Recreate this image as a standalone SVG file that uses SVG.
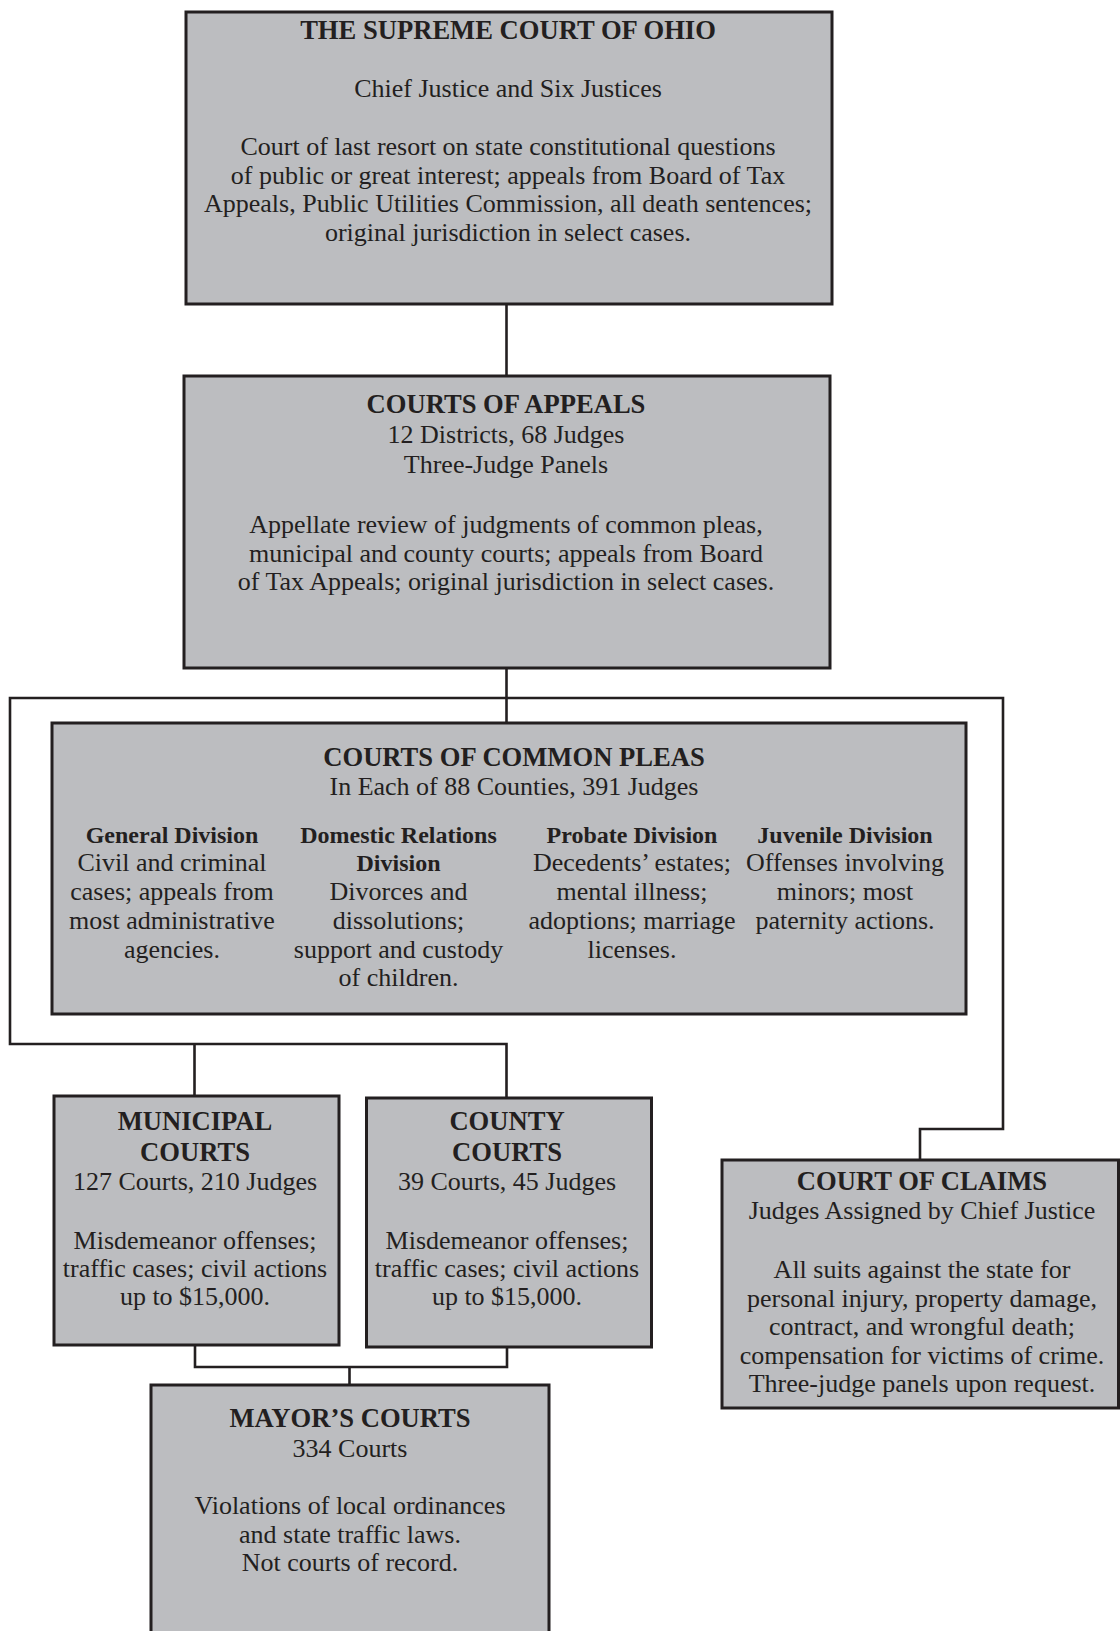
<svg xmlns="http://www.w3.org/2000/svg" width="1120" height="1631" viewBox="0 0 1120 1631">
<style>
.box{fill:#bcbdc0;stroke:#231f20;stroke-width:3}
.ln{fill:none;stroke:#231f20;stroke-width:2.6}
text{font-family:"Liberation Serif","Times New Roman",serif;fill:#231f20;text-anchor:middle}
.t{font-size:26.6px;font-weight:bold}
.h{font-size:24px;font-weight:bold}
.b{font-size:26px}
</style>
<rect width="1120" height="1631" fill="#ffffff"/>
<g id="connectors">
<path class="ln" d="M506.5 304 V376"/>
<path class="ln" d="M506.5 668 V723"/>
<path class="ln" d="M506.5 698 H10 V1044 H506.5 V1098"/>
<path class="ln" d="M194.5 1044 V1096"/>
<path class="ln" d="M506.5 698 H1003 V1129 H920 V1160"/>
<path class="ln" d="M195 1345 V1367 H507 V1347"/>
<path class="ln" d="M349.5 1367 V1385"/>
</g>
<g id="supreme">
<rect class="box" x="186" y="12" width="646" height="292"/>
<text class="t" x="508" y="39">THE SUPREME COURT OF OHIO</text>
<text class="b" x="508" y="97">Chief Justice and Six Justices</text>
<text class="b" x="508" y="155">Court of last resort on state constitutional questions</text>
<text class="b" x="508" y="183.5">of public or great interest; appeals from Board of Tax</text>
<text class="b" x="508" y="212">Appeals, Public Utilities Commission, all death sentences;</text>
<text class="b" x="508" y="240.5">original jurisdiction in select cases.</text>
</g>
<g id="appeals">
<rect class="box" x="184" y="376" width="646" height="292"/>
<text class="t" x="506" y="412.5">COURTS OF APPEALS</text>
<text class="b" x="506" y="442.5">12 Districts, 68 Judges</text>
<text class="b" x="506" y="472.5">Three-Judge Panels</text>
<text class="b" x="506" y="533">Appellate review of judgments of common pleas,</text>
<text class="b" x="506" y="561.5">municipal and county courts; appeals from Board</text>
<text class="b" x="506" y="590">of Tax Appeals; original jurisdiction in select cases.</text>
</g>
<g id="common-pleas">
<rect class="box" x="52" y="723" width="914" height="291"/>
<text class="t" x="514" y="766">COURTS OF COMMON PLEAS</text>
<text class="b" x="514" y="795">In Each of 88 Counties, 391 Judges</text>
<text class="h" x="172" y="842.5">General Division</text>
<text class="b" x="172" y="871">Civil and criminal</text>
<text class="b" x="172" y="900">cases; appeals from</text>
<text class="b" x="172" y="928.5">most administrative</text>
<text class="b" x="172" y="957.5">agencies.</text>
<text class="h" x="398.5" y="842.5">Domestic Relations</text>
<text class="h" x="398.5" y="871">Division</text>
<text class="b" x="398.5" y="900">Divorces and</text>
<text class="b" x="398.5" y="928.5">dissolutions;</text>
<text class="b" x="398.5" y="957.5">support and custody</text>
<text class="b" x="398.5" y="986">of children.</text>
<text class="h" x="632" y="842.5">Probate Division</text>
<text class="b" x="632" y="871">Decedents’ estates;</text>
<text class="b" x="632" y="900">mental illness;</text>
<text class="b" x="632" y="928.5">adoptions; marriage</text>
<text class="b" x="632" y="957.5">licenses.</text>
<text class="h" x="845" y="842.5">Juvenile Division</text>
<text class="b" x="845" y="871">Offenses involving</text>
<text class="b" x="845" y="900">minors; most</text>
<text class="b" x="845" y="928.5">paternity actions.</text>
</g>
<g id="municipal">
<rect class="box" x="54" y="1096" width="285" height="249"/>
<text class="t" x="195" y="1129.5">MUNICIPAL</text>
<text class="t" x="195" y="1160.5">COURTS</text>
<text class="b" x="195" y="1190">127 Courts, 210 Judges</text>
<text class="b" x="195" y="1248.5">Misdemeanor offenses;</text>
<text class="b" x="195" y="1277">traffic cases; civil actions</text>
<text class="b" x="195" y="1305">up to $15,000.</text>
</g>
<g id="county">
<rect class="box" x="366.5" y="1098" width="285" height="249"/>
<text class="t" x="507" y="1129.5">COUNTY</text>
<text class="t" x="507" y="1160.5">COURTS</text>
<text class="b" x="507" y="1190">39 Courts, 45 Judges</text>
<text class="b" x="507" y="1248.5">Misdemeanor offenses;</text>
<text class="b" x="507" y="1277">traffic cases; civil actions</text>
<text class="b" x="507" y="1305">up to $15,000.</text>
</g>
<g id="claims">
<rect class="box" x="722" y="1160" width="396.5" height="248"/>
<text class="t" x="922" y="1190">COURT OF CLAIMS</text>
<text class="b" x="922" y="1219">Judges Assigned by Chief Justice</text>
<text class="b" x="922" y="1278">All suits against the state for</text>
<text class="b" x="922" y="1306.5">personal injury, property damage,</text>
<text class="b" x="922" y="1335">contract, and wrongful death;</text>
<text class="b" x="922" y="1363.5">compensation for victims of crime.</text>
<text class="b" x="922" y="1391.5">Three-judge panels upon request.</text>
</g>
<g id="mayors">
<rect class="box" x="151" y="1385" width="398" height="260"/>
<text class="t" x="350" y="1427">MAYOR’S COURTS</text>
<text class="b" x="350" y="1456.5">334 Courts</text>
<text class="b" x="350" y="1514">Violations of local ordinances</text>
<text class="b" x="350" y="1542.5">and state traffic laws.</text>
<text class="b" x="350" y="1570.5">Not courts of record.</text>
</g>
</svg>
